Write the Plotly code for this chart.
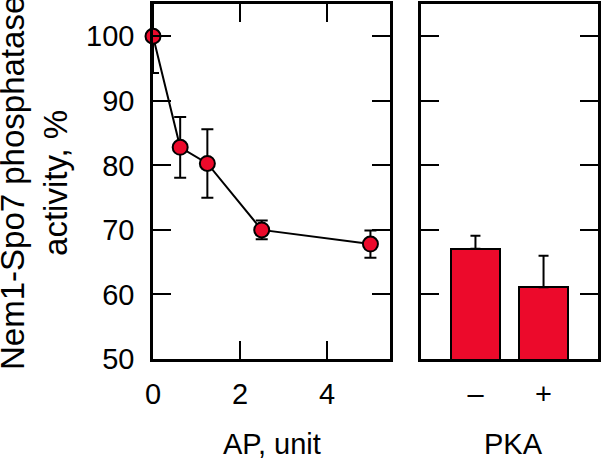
import plotly.graph_objects as go

# Data
ap_units = [0, 0.625, 1.25, 2.5, 5]
activity = [100, 82.8, 80.3, 70.0, 67.8]
activity_err = [5.7, 4.7, 5.3, 1.45, 2.1]

pka_labels = ["\u2013", "+"]
pka_activity = [67.1, 61.1]
pka_err = [2.0, 4.9]

tick_vals_x = [0, 2, 4]
tick_vals_y = [50, 60, 70, 80, 90, 100]

RED = "#EC0A2B"
FONT = "Liberation Sans, Arial, sans-serif"

W, H = 601, 458
def px_x(p):
    return p / W
def px_y(p):
    return 1 - p / H

fig = go.Figure()

# line + error bars (clipped to plot area)
fig.add_trace(go.Scatter(
    x=ap_units, y=activity, mode="lines",
    line=dict(color="black", width=2),
    error_y=dict(type="data", array=activity_err, color="black", thickness=2, width=6),
    cliponaxis=True, xaxis="x", yaxis="y", showlegend=False, hoverinfo="skip"))
# markers (not clipped)
fig.add_trace(go.Scatter(
    x=ap_units, y=activity, mode="markers",
    marker=dict(size=15, color=RED, line=dict(color="black", width=2)),
    cliponaxis=False, xaxis="x", yaxis="y", showlegend=False))

# bars
fig.add_trace(go.Bar(
    x=pka_labels, y=pka_activity,
    marker=dict(color=RED, line=dict(color="black", width=2)),
    width=0.72,
    error_y=dict(type="data", symmetric=False, array=pka_err, arrayminus=[0, 0],
                 color="black", thickness=2, width=5),
    xaxis="x2", yaxis="y2", showlegend=False))

tickfont = dict(family=FONT, size=29, color="black")
common_axis = dict(showline=True, linecolor="black", linewidth=2.5, showgrid=False,
                   zeroline=False, ticks="inside", ticklen=18, tickwidth=2,
                   tickcolor="black", tickfont=tickfont, automargin=False)

yd = [px_y(359), px_y(4)]
fig.update_layout(
    width=W, height=H,
    margin=dict(l=0, r=0, t=0, b=0, pad=0),
    paper_bgcolor="white", plot_bgcolor="white",
    font=dict(family=FONT, color="black"),
    bargap=0,
    xaxis=dict(domain=[px_x(153), px_x(390)], range=[0, 5.45], tickvals=tick_vals_x,
               mirror="ticks", ticklabelstandoff=7, **common_axis),
    yaxis=dict(domain=yd, range=[50, 105], tickvals=tick_vals_y,
               mirror="ticks", ticklabelstandoff=10, **common_axis),
    xaxis2=dict(domain=[px_x(421), px_x(598)], range=[-0.8, 1.8], type="category",
                showline=True, linecolor="black", linewidth=2.5, mirror=True,
                showgrid=False, zeroline=False, ticks="", tickfont=tickfont,
                ticklabelstandoff=7, anchor="y2", automargin=False),
    yaxis2=dict(domain=yd, range=[50, 105], tickvals=tick_vals_y, showticklabels=False,
                mirror="ticks", anchor="x2", **common_axis),
)

title_font = dict(family=FONT, size=29, color="black")
fig.add_annotation(x=px_x(272), y=px_y(444), xref="paper", yref="paper",
                   xanchor="center", yanchor="middle",
                   text="AP, unit", showarrow=False, font=title_font)
fig.add_annotation(x=px_x(513), y=px_y(444), xref="paper", yref="paper",
                   xanchor="center", yanchor="middle",
                   text="PKA", showarrow=False, font=title_font)
fig.add_annotation(x=px_x(34), y=px_y(183), xref="paper", yref="paper",
                   xanchor="center", yanchor="middle",
                   text="Nem1-Spo7 phosphatase<br>activity, %", textangle=-90,
                   showarrow=False, font=dict(family=FONT, size=33, color="black"))

fig.write_html("out.html", config={"displayModeBar": False},
               post_script="document.body.style.margin='0';document.body.style.padding='0';")
